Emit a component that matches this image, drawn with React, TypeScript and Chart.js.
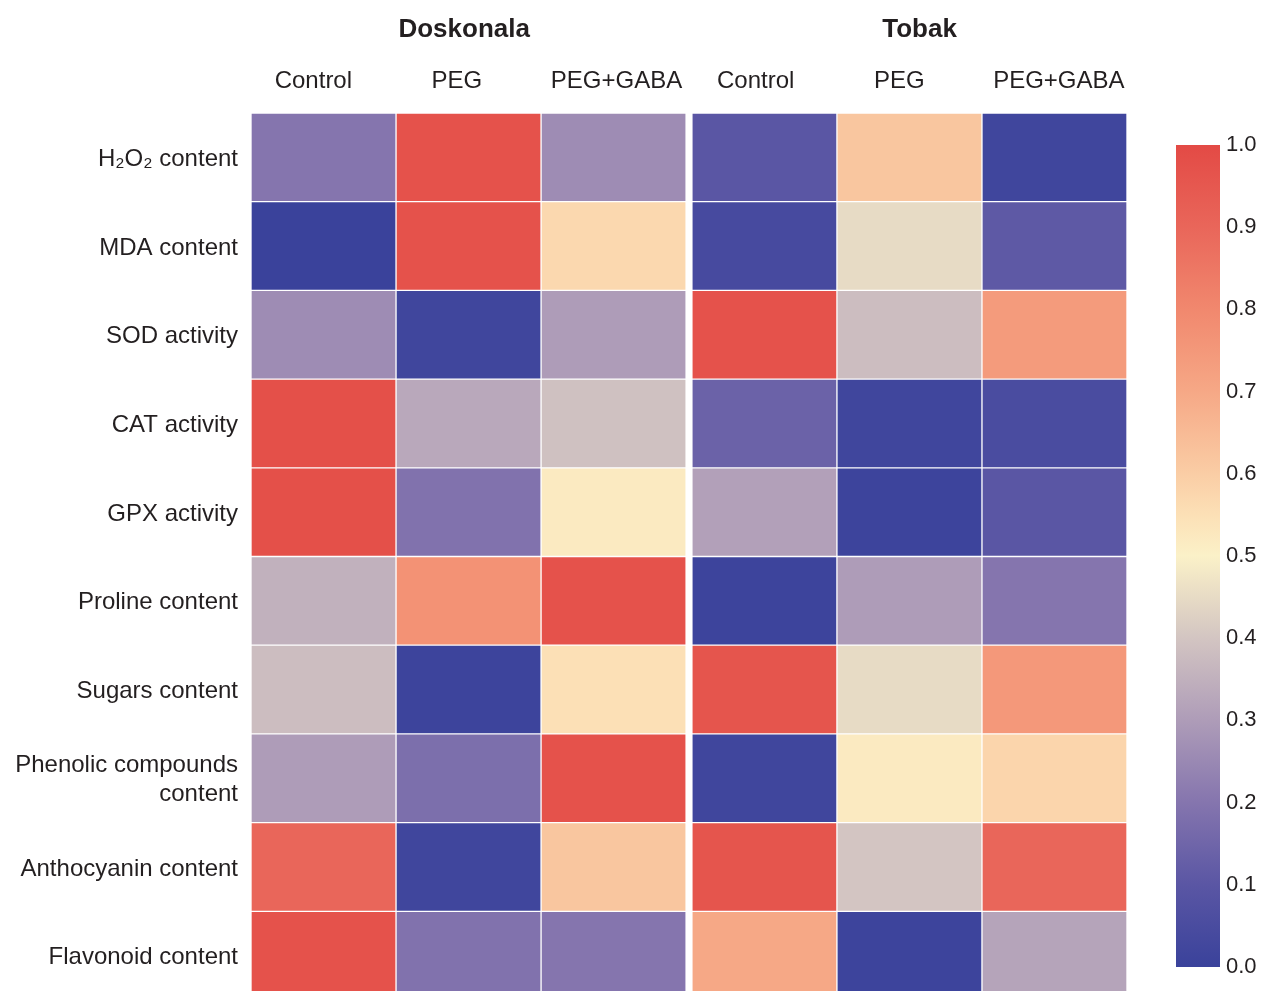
import React, { useEffect, useRef } from "react";
import { Chart, registerables } from "chart.js";

Chart.register(...registerables);

const ROWS: (string | string[])[] = [
  "H₂O₂ content",
  "MDA content",
  "SOD activity",
  "CAT activity",
  "GPX activity",
  "Proline content",
  "Sugars content",
  ["Phenolic compounds", "content"],
  "Anthocyanin content",
  "Flavonoid content",
];
const COLUMNS = ["Control", "PEG", "PEG+GABA", "Control", "PEG", "PEG+GABA"];
const GROUPS = ["Doskonala", "Tobak"];

const DOSKONALA_CONTROL = [0.2, 0.0, 0.26, 0.98, 0.98, 0.35, 0.38, 0.3, 0.9, 0.97];
const DOSKONALA_PEG = [0.97, 0.97, 0.02, 0.33, 0.19, 0.77, 0.01, 0.18, 0.02, 0.19];
const DOSKONALA_PEG_GABA = [0.26, 0.57, 0.3, 0.39, 0.52, 0.97, 0.55, 0.97, 0.62, 0.2];
const TOBAK_CONTROL = [0.1, 0.04, 0.97, 0.14, 0.31, 0.01, 0.96, 0.02, 0.96, 0.7];
const TOBAK_PEG = [0.62, 0.45, 0.38, 0.02, 0.01, 0.3, 0.45, 0.52, 0.4, 0.01];
const TOBAK_PEG_GABA = [0.02, 0.11, 0.74, 0.05, 0.1, 0.2, 0.75, 0.58, 0.9, 0.32];

const COLUMN_VALUES = [
  DOSKONALA_CONTROL,
  DOSKONALA_PEG,
  DOSKONALA_PEG_GABA,
  TOBAK_CONTROL,
  TOBAK_PEG,
  TOBAK_PEG_GABA,
];

const COLORBAR_TICKS = [0, 0.1, 0.2, 0.3, 0.4, 0.5, 0.6, 0.7, 0.8, 0.9, 1.0];

// colormap stops [value, color]
const CMAP: [number, string][] = [
  [0.0, "#3a429b"],
  [0.1, "#5a56a4"],
  [0.2, "#8575ae"],
  [0.3, "#ae9cb8"],
  [0.4, "#d3c5c2"],
  [0.5, "#fbf1c8"],
  [0.55, "#fce0b6"],
  [0.6, "#facda5"],
  [0.7, "#f6a886"],
  [0.8, "#f1886e"],
  [0.9, "#e9665a"],
  [1.0, "#e34a45"],
];

const GROUP_GAP = 0.04;
const TEXT = "#231f20";
const FONT = "'Liberation Sans', Arial, Helvetica, sans-serif";

function hexToRgb(h: string) {
  const n = parseInt(h.slice(1), 16);
  return [(n >> 16) & 255, (n >> 8) & 255, n & 255];
}

function colorFor(v: number) {
  const x = Math.max(0, Math.min(1, v));
  for (let i = 1; i < CMAP.length; i++) {
    if (x <= CMAP[i][0]) {
      const [v0, c0] = CMAP[i - 1];
      const [v1, c1] = CMAP[i];
      const t = (x - v0) / (v1 - v0);
      const a = hexToRgb(c0);
      const b = hexToRgb(c1);
      const c = a.map((q, k) => Math.round(q + (b[k] - q) * t));
      return `rgb(${c[0]},${c[1]},${c[2]})`;
    }
  }
  return CMAP[CMAP.length - 1][1];
}

function colStart(j: number) {
  return j + (j >= 3 ? GROUP_GAP : 0);
}

const X_MAX = 6 + GROUP_GAP;
const COL_LABEL_POS = [0.43, 1.42, 2.52, 3.48, 4.47, 5.57];
const GROUP_LABEL_POS = [1.47, 4.61];

function noPad(s: any) {
  s.paddingLeft = 0;
  s.paddingRight = 0;
  s.paddingTop = 0;
  s.paddingBottom = 0;
}

export default function App() {
  const mainRef = useRef<HTMLCanvasElement>(null);
  const barRef = useRef<HTMLCanvasElement>(null);

  useEffect(() => {
    const datasets = COLUMN_VALUES.map((vals, j) => ({
      label: COLUMNS[j],
      data: vals.map(() => [colStart(j), colStart(j) + 1]),
      backgroundColor: vals.map((v) => colorFor(v)),
      borderColor: "rgba(255,255,255,0.12)",
      borderWidth: 1,
      borderSkipped: false,
      barPercentage: 1,
      categoryPercentage: 1,
      grouped: false,
      xAxisID: "x",
    }));

    const main = new Chart(mainRef.current!, {
      type: "bar",
      data: { labels: ROWS as any, datasets: datasets as any },
      options: {
        animation: false,
        responsive: false,
        indexAxis: "y",
        layout: { padding: 0 },
        plugins: { legend: { display: false }, tooltip: { enabled: false } },
        scales: {
          x: {
            type: "linear",
            position: "top",
            min: 0,
            max: X_MAX,
            weight: 0,
            grid: { display: false, drawTicks: false },
            border: { display: false },
            afterBuildTicks: (s: any) => {
              s.ticks = COL_LABEL_POS.map((v) => ({ value: v }));
            },
            afterFit: (s: any) => {
              s.height = 55;
              noPad(s);
            },
            ticks: {
              autoSkip: false,
              maxRotation: 0,
              padding: 20,
              color: TEXT,
              font: { family: FONT, size: 24, lineHeight: 1 },
              callback: (_v: any, i: number) => COLUMNS[i],
            },
          },
          xg: {
            type: "linear",
            position: "top",
            min: 0,
            max: X_MAX,
            weight: 1,
            grid: { display: false, drawTicks: false },
            border: { display: false },
            afterBuildTicks: (s: any) => {
              s.ticks = GROUP_LABEL_POS.map((v) => ({ value: v }));
            },
            afterFit: (s: any) => {
              s.height = 58;
              noPad(s);
            },
            ticks: {
              autoSkip: false,
              maxRotation: 0,
              padding: 15,
              color: TEXT,
              font: { family: FONT, size: 26, weight: "bold", lineHeight: 1 },
              callback: (_v: any, i: number) => GROUPS[i],
            },
          },
          y: {
            type: "category",
            position: "left",
            grid: { display: false, drawTicks: false },
            border: { display: false },
            afterFit: (s: any) => {
              s.width = 251;
              noPad(s);
            },
            ticks: {
              padding: 13,
              labelOffset: 2,
              color: TEXT,
              autoSkip: false,
              font: { family: FONT, size: 24, lineHeight: 1.2 },
            },
          },
        },
      } as any,
    });

    const bar = new Chart(barRef.current!, {
      type: "bar",
      data: {
        labels: [""],
        datasets: [
          {
            data: [[COLORBAR_TICKS[0], COLORBAR_TICKS[COLORBAR_TICKS.length - 1]]],
            barPercentage: 1,
            categoryPercentage: 1,
            borderWidth: 0,
            backgroundColor: (ctx: any) => {
              const area = ctx.chart.chartArea;
              if (!area) return "#ccc";
              const g = ctx.chart.ctx.createLinearGradient(0, area.bottom, 0, area.top);
              CMAP.forEach(([v, c]) => g.addColorStop(v, c));
              return g;
            },
          } as any,
        ],
      },
      options: {
        animation: false,
        responsive: false,
        layout: { padding: { top: 145, bottom: 24, left: 0, right: 0 } },
        plugins: { legend: { display: false }, tooltip: { enabled: false } },
        scales: {
          x: { display: false },
          y: {
            type: "linear",
            position: "right",
            min: 0,
            max: 1,
            grid: { display: false, drawTicks: false },
            border: { display: false },
            afterBuildTicks: (s: any) => {
              s.ticks = COLORBAR_TICKS.map((v) => ({ value: v }));
            },
            afterFit: (s: any) => {
              s.width = 41;
            },
            ticks: {
              padding: 6,
              color: TEXT,
              font: { family: FONT, size: 22 },
              callback: (v: any) => Number(v).toFixed(1),
            },
          },
        },
      } as any,
    });

    return () => {
      main.destroy();
      bar.destroy();
    };
  }, []);

  return (
    <div
      style={{
        position: "fixed",
        left: 0,
        top: 0,
        width: 1261,
        height: 991,
        overflow: "hidden",
        background: "#fff",
      }}
    >
      <canvas
        ref={mainRef}
        width={1127}
        height={1000}
        style={{ position: "absolute", left: 0, top: 0, width: 1127, height: 1000 }}
      />
      <canvas
        ref={barRef}
        width={85}
        height={991}
        style={{ position: "absolute", left: 1176, top: 0, width: 85, height: 991 }}
      />
    </div>
  );
}
